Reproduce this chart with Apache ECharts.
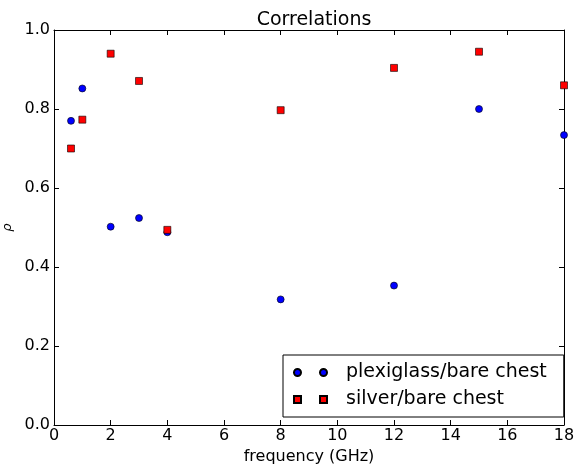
<!DOCTYPE html>
<html>
<head>
<meta charset="utf-8">
<script src="https://cdn.jsdelivr.net/npm/echarts@6/dist/echarts.min.js"></script>
<style>
  html, body { margin: 0; padding: 0; background: #fff; }
  #chart { width: 575px; height: 465px; }
</style>
</head>
<body>
<div id="chart"></div>
<script>
// frequency (GHz)
const freq = [0.6, 1, 2, 3, 4, 8, 12, 15, 18];
// correlations
const plexiglass = [0.770, 0.852, 0.502, 0.524, 0.488, 0.318, 0.353, 0.800, 0.734];
const silver = [0.700, 0.773, 0.940, 0.871, 0.494, 0.797, 0.904, 0.945, 0.860];

const toPairs = (xs, ys) => xs.map((x, i) => [x, ys[i]]);

const font = 'DejaVu Sans';
const chart = echarts.init(document.getElementById('chart'));

const axisCommon = {
  axisLine: { show: true, onZero: false, lineStyle: { color: '#000', width: 1 } },
  axisTick: { show: true, inside: true, length: 5, lineStyle: { color: '#000' } },
  splitLine: { show: false }
};

const option = {
  animation: false,
  backgroundColor: '#fff',
  title: {
    text: 'Correlations',
    left: 309, top: 6, textAlign: 'center',
    textStyle: { fontFamily: font, fontSize: 19, fontWeight: 'normal', color: '#000' }
  },
  legend: {
    orient: 'vertical',
    left: 283, top: 355,
    padding: [8, 17, 8, 10],
    itemGap: 8,
    itemWidth: 33, itemHeight: 7,
    borderColor: '#000', borderWidth: 1,
    backgroundColor: '#fff',
    textStyle: { fontFamily: font, fontSize: 19, color: '#000', padding: [0, 0, 0, 14] },
    data: [
      { name: 'plexiglass/bare chest',
        icon: 'path://M0,3.5a3.5,3.5 0 1,0 7,0a3.5,3.5 0 1,0 -7,0zM26,3.5a3.5,3.5 0 1,0 7,0a3.5,3.5 0 1,0 -7,0z' },
      { name: 'silver/bare chest',
        icon: 'path://M0,0h7v7h-7zM26,0h7v7h-7z' }
    ]
  },
  grid: { left: 54, right: 11, top: 30, bottom: 40, outerBoundsMode: 'none', containLabel: false },
  xAxis: [
    Object.assign({
      type: 'value', min: 0, max: 18, interval: 2, position: 'bottom',
      name: 'frequency (GHz)', nameLocation: 'middle', nameGap: 20,
      nameTextStyle: { fontFamily: font, fontSize: 16, color: '#000' },
      axisLabel: { fontFamily: font, fontSize: 16, color: '#000', margin: 3 }
    }, axisCommon),
    Object.assign({
      type: 'value', min: 0, max: 18, interval: 2, position: 'top',
      axisLabel: { show: false }
    }, axisCommon)
  ],
  yAxis: [
    Object.assign({
      type: 'value', min: 0, max: 1, interval: 0.2, position: 'left',
      name: 'ρ', nameLocation: 'middle', nameGap: 38, nameRotate: 90,
      nameTextStyle: { fontFamily: font, fontSize: 13, fontStyle: 'italic', color: '#000' },
      axisLabel: { fontFamily: font, fontSize: 16, color: '#000', margin: 4,
        formatter: v => v.toFixed(1) }
    }, axisCommon),
    Object.assign({
      type: 'value', min: 0, max: 1, interval: 0.2, position: 'right',
      axisLabel: { show: false }
    }, axisCommon)
  ],
  series: [
    {
      name: 'plexiglass/bare chest',
      type: 'scatter',
      symbol: 'circle', symbolSize: 7,
      itemStyle: { color: '#0000ff', borderColor: '#000', borderWidth: 0.6, opacity: 1 },
      data: toPairs(freq, plexiglass)
    },
    {
      name: 'silver/bare chest',
      type: 'scatter',
      symbol: 'rect', symbolSize: 7,
      itemStyle: { color: '#ff0000', borderColor: '#000', borderWidth: 0.6, opacity: 1 },
      data: toPairs(freq, silver)
    }
  ]
};

chart.setOption(option);
</script>
</body>
</html>
